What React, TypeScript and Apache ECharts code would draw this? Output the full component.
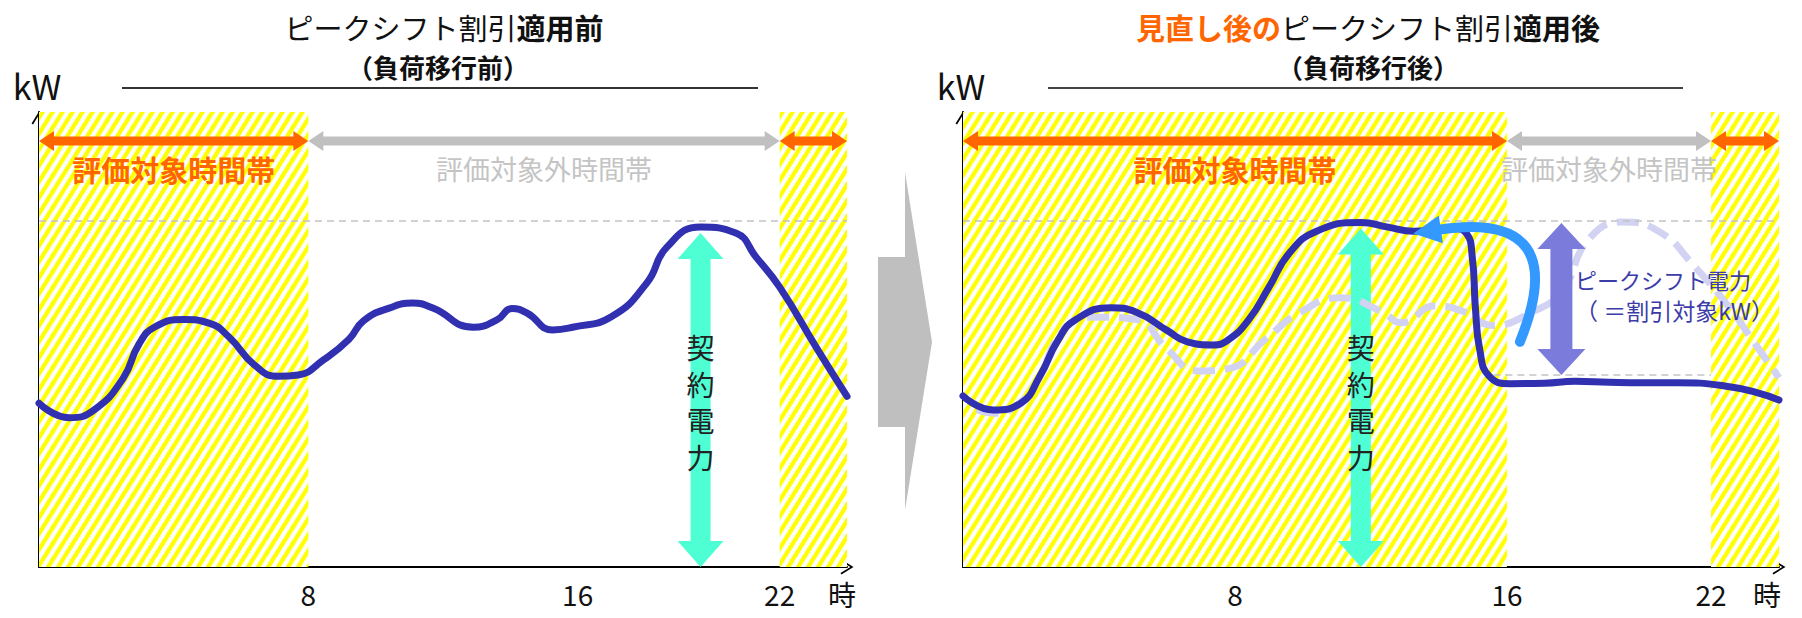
import React, { useEffect, useRef } from "react";
import * as echarts from "echarts";

const FONT = '"Noto Sans CJK JP", "Noto Sans", sans-serif';

// ---------- data ----------
const HOUR_TICKS = [8, 16, 22];
const HOUR_MAX = 24;
const KW_MAX = 100;

// left panel: load curve before shifting (hour, kW index)
const loadBefore: number[][] = [
  [0, 36.0], [0.9, 32.8], [1.65, 34.6], [2.5, 41.5], [2.97, 49.0], [3.45, 52.8], [4.3, 54.4],
  [5.05, 53.6], [5.65, 50.5], [6.4, 44.4], [7.1, 41.9], [7.7, 42.2], [8.45, 45.5], [9.2, 50.0],
  [9.65, 54.2], [10.4, 56.9], [11.1, 58.0], [11.7, 56.9], [12.9, 52.7], [13.6, 54.3], [14.05, 56.8],
  [14.5, 55.8], [15.25, 52.1], [15.85, 52.7], [17.0, 55.0], [18.05, 62.4], [18.65, 70.3],
  [19.65, 74.7], [20.7, 73.4], [21.3, 68.1], [22.0, 61.5], [23.1, 48.1], [24.0, 37.5],
];

// right panel: load curve after shifting
const loadAfter: number[][] = [
  [0, 37.6], [0.9, 34.5], [1.7, 36.0], [2.25, 41.8], [2.8, 49.9], [3.3, 54.3], [4.35, 57.0],
  [5.1, 56.0], [6.0, 52.0], [6.6, 49.5], [7.35, 48.8], [7.8, 49.9], [8.4, 54.3], [9.0, 61.5],
  [9.6, 69.0], [10.4, 73.8], [11.7, 75.7], [12.5, 74.7], [13.25, 73.8], [13.8, 74.0], [14.4, 74.4],
  [14.8, 73.4], [14.98, 68.0], [15.07, 57.0], [15.2, 47.7], [15.47, 42.0], [16.1, 40.3],
  [17.1, 40.4], [18.0, 40.8], [19.0, 40.6], [20.0, 40.5], [21.0, 40.5], [22.4, 39.8],
  [23.4, 38.2], [24.0, 36.7],
];

// right panel: previous curve shown faintly (dashed)
const loadBeforeGhost: number[][] = [
  [0.4, 34.6], [0.95, 33.8], [1.5, 35.2], [2.1, 39.8], [3.0, 52.4], [3.9, 54.9], [5.1, 54.4],
  [6.0, 47.9], [6.9, 43.1], [7.8, 43.6], [8.9, 50.1], [9.9, 55.9], [11.1, 59.2], [12.3, 56.2],
  [12.9, 53.7], [13.9, 57.4], [14.7, 56.2], [15.6, 53.1], [16.7, 55.9], [17.6, 60.5], [18.4, 72.0],
  [19.4, 75.8], [20.5, 73.6], [21.5, 66.2], [22.5, 57.4], [23.2, 50.1], [24.0, 41.6],
];

const contractKw = 76;
const shiftedKw = 42.2;
const shiftedFrom = 15.6;
const shiftedTo = 22;

const evalBands = [
  [[0, 8], [22, 24]],
  [[0, 16], [22, 24]],
];
const offBands = [[[8, 22]], [[16, 22]]];
const bandArrowKw = 93.6;
const bandLabelKw = 87.5;

const contractHour = [19.65, 11.7];
const contractTopKw = [73.4, 74.4];
const contractLabelKw = 36.3;

const peakShiftHour = 17.6;
const peakShiftTopKw = 75.6;
const peakShiftBottomKw = 42.2;
const arcStart = [16.38, 49.5];
const arcControl = [17.95, 78.5];
const arcTip = [13.24, 73.3];
const shiftLabelHour = 18.0;
const shiftLabelKw = [63.3, 56.4];

// ---------- colours ----------
const ORANGE = "#ff6600";
const GREY_ARROW = "#c0c0c0";
const GREY_TEXT = "#c4c4c4";
const NAVY = "#3030b0";
const GHOST = "#d2d2f2";
const TURQ = "#4dffd3";
const PURPLE = "#7b7bdc";
const BLUE = "#3399ff";

const CHEVRON = "path://M0,13 L8,0 L16,13 L14.4,14 L8,3.4 L1.6,14 Z";

function makeHatch(): string {
  const W = 10, H = 16, S = 3;
  const c = document.createElement("canvas");
  c.width = W * S;
  c.height = H * S;
  const ctx = c.getContext("2d")!;
  ctx.scale(S, S);
  ctx.fillStyle = "#ffffff";
  ctx.fillRect(0, 0, W, H);
  ctx.fillStyle = "#ffff00";
  const t = 5;
  for (let k = -1; k <= 1; k++) {
    const x0 = k * W;
    ctx.beginPath();
    ctx.moveTo(x0, H);
    ctx.lineTo(x0 + W, 0);
    ctx.lineTo(x0 + W + t, 0);
    ctx.lineTo(x0 + t, H);
    ctx.closePath();
    ctx.fill();
  }
  return c.toDataURL();
}

function doubleArrow(a: number[], b: number[], shaft: number, headW: number, headL: number) {
  const dx = b[0] - a[0], dy = b[1] - a[1];
  const len = Math.hypot(dx, dy) || 1;
  const ux = dx / len, uy = dy / len;
  const nx = -uy, ny = ux;
  const p = (base: number[], along: number, across: number) => [
    base[0] + ux * along + nx * across,
    base[1] + uy * along + ny * across,
  ];
  return [
    a, p(a, headL, headW / 2), p(a, headL, shaft / 2),
    p(b, -headL, shaft / 2), p(b, -headL, headW / 2), b,
    p(b, -headL, -headW / 2), p(b, -headL, -shaft / 2),
    p(a, headL, -shaft / 2), p(a, headL, -headW / 2),
  ];
}

export default function App() {
  const ref = useRef<HTMLDivElement>(null);

  useEffect(() => {
    const el = ref.current!;
    const chart = echarts.init(el, null, { renderer: "svg" });
    const hatch = {
      image: makeHatch(),
      repeat: "repeat",
      imageWidth: 10,
      imageHeight: 16,
    };

    const grids = [
      { left: 39, top: 112, width: 808, height: 455 },
      { left: 963, top: 112, width: 816, height: 455 },
    ];
    const nameGaps = [-19, -26];

    const xAxes = grids.map((_, g) => ({
      gridIndex: g,
      type: "value",
      min: 0,
      max: HOUR_MAX,
      axisLine: {
        show: true,
        onZero: false,
        lineStyle: { color: "#000", width: 2 },
        symbol: ["none", CHEVRON],
        symbolSize: [16, 13],
      },
      axisTick: { show: false },
      splitLine: { show: false },
      axisLabel: {
        customValues: HOUR_TICKS,
        fontSize: 28,
        lineHeight: 28,
        color: "#111",
        margin: 13,
        fontFamily: FONT,
      },
      name: "時",
      nameLocation: "end",
      nameGap: nameGaps[g],
      nameTextStyle: {
        fontSize: 28,
        lineHeight: 28,
        color: "#111",
        fontFamily: FONT,
        verticalAlign: "top",
        padding: [13, 0, 0, 0],
      },
    }));

    const yAxes = grids.map((_, g) => ({
      gridIndex: g,
      type: "value",
      min: 0,
      max: KW_MAX,
      axisLine: {
        show: true,
        lineStyle: { color: "#000", width: 2 },
        symbol: ["none", CHEVRON],
        symbolSize: [16, 13],
        symbolOffset: [0, -6],
      },
      axisTick: { show: false },
      axisLabel: { show: false },
      splitLine: { show: false },
    }));

    const refLines = [
      [[0, HOUR_MAX, contractKw]],
      [[0, HOUR_MAX, contractKw], [shiftedFrom, shiftedTo, shiftedKw]],
    ];

    const series: any[] = [];
    grids.forEach((_, g) => {
      series.push({
        type: "line",
        xAxisIndex: g,
        yAxisIndex: g,
        data: [],
        z: 1,
        silent: true,
        markArea: {
          silent: true,
          itemStyle: { color: hatch, borderWidth: 0 },
          data: evalBands[g].map((b) => [{ xAxis: b[0] }, { xAxis: b[1] }]),
        },
      });
      series.push({
        type: "line",
        xAxisIndex: g,
        yAxisIndex: g,
        data: [],
        z: 2,
        silent: true,
        markLine: {
          silent: true,
          symbol: ["none", "none"],
          label: { show: false },
          lineStyle: { color: "#c4c4c4", width: 1.5, type: [7, 5] },
          data: refLines[g].map((r) => [{ coord: [r[0], r[2]] }, { coord: [r[1], r[2]] }]),
        },
      });
    });
    series.push({
      type: "line",
      xAxisIndex: 1,
      yAxisIndex: 1,
      data: loadBeforeGhost,
      smooth: 0.5,
      symbol: "none",
      z: 4,
      silent: true,
      lineStyle: { color: GHOST, width: 7, type: [22, 10] },
    });
    series.push({
      type: "line",
      xAxisIndex: 0,
      yAxisIndex: 0,
      data: loadBefore,
      smooth: 0.5,
      symbol: "none",
      z: 5,
      silent: true,
      lineStyle: { color: NAVY, width: 7, cap: "round", join: "round" },
    });
    series.push({
      type: "line",
      xAxisIndex: 1,
      yAxisIndex: 1,
      data: loadAfter,
      smooth: 0.5,
      symbol: "none",
      z: 5,
      silent: true,
      lineStyle: { color: NAVY, width: 7, cap: "round", join: "round" },
    });

    chart.setOption({
      animation: false,
      grid: grids,
      xAxis: xAxes,
      yAxis: yAxes,
      series,
    });

    const px = (g: number, h: number, v: number) =>
      chart.convertToPixel({ xAxisIndex: g, yAxisIndex: g }, [h, v]) as number[];

    const els: any[] = [];
    const text = (x: number, y: number, style: any, z = 20) =>
      els.push({
        type: "text",
        x,
        y,
        z,
        silent: true,
        style: { fontFamily: FONT, align: "center", verticalAlign: "middle", ...style },
      });

    // titles
    text(444, 27, {
      text: "{n|ピークシフト割引}{b|適用前}",
      rich: {
        n: { fontSize: 29, fontFamily: FONT, fill: "#111" },
        b: { fontSize: 29, fontFamily: FONT, fill: "#111", fontWeight: "bold" },
      },
    });
    text(438, 66, { text: "（負荷移行前）", fontSize: 26, fontWeight: "bold", fill: "#111" });
    text(1368, 27, {
      text: "{o|見直し後の}{n|ピークシフト割引}{b|適用後}",
      rich: {
        o: { fontSize: 29, fontFamily: FONT, fill: ORANGE, fontWeight: "bold" },
        n: { fontSize: 29, fontFamily: FONT, fill: "#111" },
        b: { fontSize: 29, fontFamily: FONT, fill: "#111", fontWeight: "bold" },
      },
    });
    text(1368, 66, { text: "（負荷移行後）", fontSize: 26, fontWeight: "bold", fill: "#111" });
    els.push({ type: "line", z: 20, silent: true, shape: { x1: 122, y1: 88, x2: 758, y2: 88 }, style: { stroke: "#333", lineWidth: 2 } });
    els.push({ type: "line", z: 20, silent: true, shape: { x1: 1048, y1: 88, x2: 1683, y2: 88 }, style: { stroke: "#444", lineWidth: 2 } });
    text(37, 85, { text: "kW", fontSize: 34, fill: "#111" });
    text(961, 85, { text: "kW", fontSize: 34, fill: "#111" });

    // middle transition arrow
    els.push({
      type: "polygon",
      z: 20,
      silent: true,
      shape: { points: [[878, 257], [905, 257], [905, 172], [932, 342], [905, 510], [905, 427], [878, 427]] },
      style: { fill: "#bfbfbf" },
    });

    grids.forEach((_, g) => {
      // band arrows + labels
      evalBands[g].forEach((b, i) => {
        els.push({
          type: "polygon", z: 12, silent: true,
          shape: { points: doubleArrow(px(g, b[0], bandArrowKw), px(g, b[1], bandArrowKw), 9, 20, 15) },
          style: { fill: ORANGE },
        });
        if (i === 0) {
          const c = px(g, (b[0] + b[1]) / 2, bandLabelKw);
          text(c[0], c[1], { text: "評価対象時間帯", fontSize: 29, fontWeight: "bold", fill: ORANGE });
        }
      });
      offBands[g].forEach((b) => {
        els.push({
          type: "polygon", z: 12, silent: true,
          shape: { points: doubleArrow(px(g, b[0], bandArrowKw), px(g, b[1], bandArrowKw), 9, 20, 15) },
          style: { fill: GREY_ARROW },
        });
        const c = px(g, (b[0] + b[1]) / 2, bandLabelKw);
        text(c[0], c[1], { text: "評価対象外時間帯", fontSize: 27, fill: GREY_TEXT });
      });

      // contract power arrow
      els.push({
        type: "polygon", z: 3, silent: true,
        shape: { points: doubleArrow(px(g, contractHour[g], contractTopKw[g]), px(g, contractHour[g], 0), 20, 46, 26) },
        style: { fill: TURQ },
      });
      const lp = px(g, contractHour[g], contractLabelKw);
      text(lp[0], lp[1], { text: "契\n約\n電\n力", fontSize: 28, lineHeight: 36.5, fill: "#222" });
    });

    // peak-shift arrow (right)
    els.push({
      type: "polygon", z: 12, silent: true,
      shape: { points: doubleArrow(px(1, peakShiftHour, peakShiftTopKw), px(1, peakShiftHour, peakShiftBottomKw), 22, 48, 26) },
      style: { fill: PURPLE },
    });
    const t1 = px(1, shiftLabelHour, shiftLabelKw[0]);
    const t2 = px(1, shiftLabelHour, shiftLabelKw[1]);
    els.push({ type: "text", z: 21, silent: true, x: t1[0], y: t1[1], style: { text: "ピークシフト電力", fontFamily: FONT, fontSize: 22, fill: "#3c3ca8", align: "left", verticalAlign: "middle" } });
    els.push({ type: "text", z: 21, silent: true, x: t2[0], y: t2[1], style: { text: "（ ＝割引対象kW）", fontFamily: FONT, fontSize: 23, fill: "#3c3ca8", align: "left", verticalAlign: "middle" } });

    // curved shift arrow
    const S = px(1, arcStart[0], arcStart[1]);
    const C = px(1, arcControl[0], arcControl[1]);
    const T = px(1, arcTip[0], arcTip[1]);
    const dx = T[0] - C[0], dy = T[1] - C[1];
    const dl = Math.hypot(dx, dy) || 1;
    const ux = dx / dl, uy = dy / dl;
    const headL = 28, headW = 28;
    const B = [T[0] - ux * headL, T[1] - uy * headL];
    els.push({
      type: "bezierCurve", z: 13, silent: true,
      shape: { x1: S[0], y1: S[1], x2: B[0] + ux * 2, y2: B[1] + uy * 2, cpx1: C[0], cpy1: C[1] },
      style: { stroke: BLUE, lineWidth: 10, fill: null, lineCap: "round" },
    });
    els.push({
      type: "polygon", z: 13, silent: true,
      shape: { points: [T, [B[0] - uy * headW / 2, B[1] + ux * headW / 2], [B[0] + uy * headW / 2, B[1] - ux * headW / 2]] },
      style: { fill: BLUE },
    });

    chart.setOption({ graphic: { elements: els } });

    return () => chart.dispose();
  }, []);

  return (
    <div
      ref={ref}
      style={{ position: "fixed", left: 0, top: 0, width: 1802, height: 618, background: "#fff" }}
    />
  );
}
